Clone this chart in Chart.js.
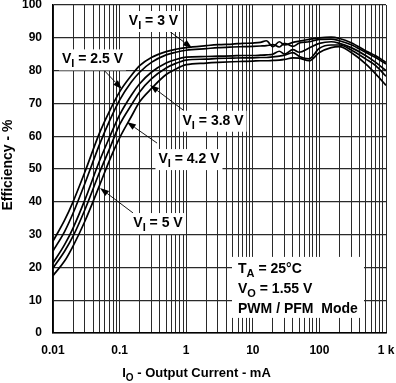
<!DOCTYPE html>
<html><head><meta charset="utf-8">
<script src="https://cdn.jsdelivr.net/npm/chart.js@4"></script>
<style>html,body{margin:0;padding:0;background:#fff}canvas{display:block}</style>
</head><body>
<canvas id="c" width="396" height="383"></canvas>
<script>
// ---- data ----
const currents = [0.01,0.015,0.02,0.03,0.05,0.07,0.1,0.15,0.2,0.3,0.5,0.7,1,2,3,5,7,10,13,16,20,25,30,40,50,70,100,150,200,300,500,700,1000];
const effVi25 = [28,34.5,40,49,61,67.5,73.5,78.5,81.5,84,85.8,86.5,87,87.6,87.9,88.1,88.3,88.4,88.6,89.1,87.3,88.8,87.8,88.6,89.0,89.5,90.0,90.2,89.8,88.5,86,84.5,82.5];
const effVi30 = [25,31,36.5,45.5,57.5,64.5,71,76.5,79.5,82.5,84.8,85.6,86.2,86.7,87.0,87.2,87.3,87.4,87.5,87.6,87.9,87.2,88.3,87.4,88.4,88.8,89.5,89.6,89.1,87.9,85.5,84.0,82.0];
const effVi38 = [21.3,27,32,40.5,52.5,59.5,66.5,72.5,76,79.5,82.3,83.4,84.1,84.3,84.4,84.5,84.6,84.6,84.7,84.8,85.0,85.9,85.0,86.4,85.6,86.9,88.3,88.8,88.3,87.0,84.5,82.5,80.0];
const effVi42 = [19.8,25,29.5,37.5,49,56,63.5,69.5,73.5,77.5,80.8,82.2,83.2,83.5,83.7,83.8,83.9,83.9,84.0,84.0,84.2,84.4,84.7,85.5,84.3,83.6,86.8,87.8,87.8,86.3,83.5,81.5,78.3];
const effVi50 = [17.5,22,26.5,34,45,52.5,59.5,66,70.5,74.5,78.8,80.5,81.8,82.3,82.5,82.7,82.8,82.9,83.0,83.0,83.1,83.2,83.4,83.9,83.8,83.0,85.5,87.0,87.3,85.5,82.0,79.0,75.5];
const seriesNames = ['VI = 2.5 V','VI = 3 V','VI = 3.8 V','VI = 4.2 V','VI = 5 V'];
const seriesValues = [effVi25, effVi30, effVi38, effVi42, effVi50];

const xTickValues = [0.01,0.1,1,10,100,1000];
const xTickLabels = ['0.01','0.1','1','10','100','1 k'];
const xGridMultipliers = [1,2,3,4,5,6,7,8,9];
const yTickValues = [0,10,20,30,40,50,60,70,80,90,100];

// labels: [main, subscript, rest]
const curveLabels = [['V','I',' = 3 V'],['V','I',' = 2.5 V'],['V','I',' = 3.8 V'],['V','I',' = 4.2 V'],['V','I',' = 5 V']];
const curveLabelAt = [[0.323,93.9],[0.0392,82.2],[2.53,63.5],[1.10,51.8],[0.377,32.3]];
const arrowFrom = [[0.481,93],[0.0508,81.4],[0.896,68],[0.365,57.9],[0.159,36.6]];
const arrowTo = [[1.22,86.9],[0.108,74.4],[0.286,75.6],[0.129,64.3],[0.0508,44.2]];

const infoLines = [['T','A',' = 25°C'],['V','O',' = 1.55 V'],['PWM / PFM  Mode','','']];
const infoBaselines = [18.2,12.3,6.2];
const infoTextLeft = 6.0;
const infoBox = [4.87,23.2,467,4.6];

const xTitle = ['I','O',' - Output Current - mA'];
const yTitle = 'Efficiency - %';

// ---- drawing ----
const FONT = '"Liberation Sans", Arial, Helvetica, sans-serif';
const gridValues = [];
for (let e = -2; e < 3; e++) for (const m of xGridMultipliers) gridValues.push(parseFloat((m*Math.pow(10,e)).toPrecision(3)));
gridValues.push(1000);

function richWidth(ctx, parts, size, subSize){
  ctx.font = `bold ${size}px ${FONT}`;
  let w = ctx.measureText(parts[0]).width + ctx.measureText(parts[2]).width;
  ctx.font = `bold ${subSize}px ${FONT}`;
  w += ctx.measureText(parts[1]).width;
  return w;
}
function drawRich(ctx, parts, x, y, size, subSize){
  ctx.textBaseline = 'alphabetic';
  ctx.textAlign = 'left';
  ctx.font = `bold ${size}px ${FONT}`;
  ctx.fillText(parts[0], x, y);
  x += ctx.measureText(parts[0]).width;
  ctx.font = `bold ${subSize}px ${FONT}`;
  ctx.fillText(parts[1], x, y + 4);
  x += ctx.measureText(parts[1]).width;
  ctx.font = `bold ${size}px ${FONT}`;
  ctx.fillText(parts[2], x, y);
}

const annotPlugin = {
  id: 'annot',
  afterDatasetsDraw(chart){
    const ctx = chart.ctx, xs = chart.scales.x, ys = chart.scales.y;
    ctx.save();
    // arrows
    ctx.strokeStyle = '#000'; ctx.fillStyle = '#000'; ctx.lineWidth = 0.9;
    arrowFrom.forEach((f,i)=>{
      const x0 = xs.getPixelForValue(f[0]), y0 = ys.getPixelForValue(f[1]);
      const x1 = xs.getPixelForValue(arrowTo[i][0]), y1 = ys.getPixelForValue(arrowTo[i][1]);
      const a = Math.atan2(y1-y0, x1-x0), L = 9, W = 3.2;
      const bx = x1 - L*Math.cos(a), by = y1 - L*Math.sin(a);
      ctx.beginPath(); ctx.moveTo(x0,y0); ctx.lineTo(bx,by); ctx.stroke();
      ctx.beginPath(); ctx.moveTo(x1,y1);
      ctx.lineTo(bx + W*Math.sin(a), by - W*Math.cos(a));
      ctx.lineTo(bx - W*Math.sin(a), by + W*Math.cos(a));
      ctx.closePath(); ctx.fill();
    });
    // curve labels
    curveLabels.forEach((p,i)=>{
      const w = richWidth(ctx, p, 14, 11);
      const cx = xs.getPixelForValue(curveLabelAt[i][0]), by = ys.getPixelForValue(curveLabelAt[i][1]);
      const x = cx - w/2;
      ctx.fillStyle = '#fff';
      ctx.fillRect(x-3, by-14, w+6, 21);
      ctx.fillStyle = '#000';
      drawRich(ctx, p, x, by, 14, 11);
    });
    // info box
    const bx0 = xs.getPixelForValue(infoBox[0]), by0 = ys.getPixelForValue(infoBox[1]);
    const bx1 = xs.getPixelForValue(infoBox[2]), by1 = ys.getPixelForValue(infoBox[3]);
    ctx.fillStyle = '#fff';
    ctx.fillRect(bx0, by0, bx1-bx0, by1-by0);
    ctx.fillStyle = '#000';
    infoLines.forEach((p,i)=>{
      drawRich(ctx, p, xs.getPixelForValue(infoTextLeft), ys.getPixelForValue(infoBaselines[i]), 14, 11);
    });
    ctx.restore();
  },
  afterDraw(chart){
    const ctx = chart.ctx;
    ctx.save();
    ctx.fillStyle = '#000';
    // x title
    const w = richWidth(ctx, xTitle, 13, 10);
    drawRich(ctx, xTitle, 196.5 - w/2, 377, 13, 10);
    // y title
    ctx.translate(12, 165);
    ctx.rotate(-Math.PI/2);
    ctx.font = `bold 14px ${FONT}`;
    ctx.textAlign = 'center'; ctx.textBaseline = 'alphabetic';
    ctx.fillText(yTitle, 0, 0);
    ctx.restore();
  }
};

const tickFont = {family: FONT, size: 12, weight: 'bold'};
new Chart(document.getElementById('c').getContext('2d'), {
  type: 'line',
  data: {
    datasets: seriesValues.map((s,i)=>({
      label: seriesNames[i],
      data: currents.map((c,j)=>({x:c, y:s[j]})),
      borderColor: '#000', borderWidth: 1.7, pointRadius: 0, fill: false,
      cubicInterpolationMode: 'monotone'
    }))
  },
  options: {
    responsive: false, animation: false, devicePixelRatio: 1,
    layout: {padding: {top: 5, right: 10, left: 0, bottom: 0}},
    plugins: {legend: {display: false}, tooltip: {enabled: false}},
    scales: {
      x: {
        type: 'logarithmic', min: 0.01, max: 1000,
        afterBuildTicks(scale){ scale.ticks = gridValues.map(v=>({value:v})); },
        afterFit(scale){ scale.height = 50; scale.paddingLeft = 0; scale.paddingRight = 0; },
        ticks: {
          autoSkip: false, maxRotation: 0, minRotation: 0, padding: 10, color: '#000', font: tickFont,
          callback(v){ const i = xTickValues.findIndex(t=>Math.abs(t-v)/t < 1e-6); return i >= 0 ? xTickLabels[i] : ''; }
        },
        grid: {color: '#2a2a2a', lineWidth: 1, drawTicks: false, tickLength: 0},
        border: {color: '#000', width: 1.5}
      },
      y: {
        min: 0, max: 100,
        afterBuildTicks(scale){ scale.ticks = yTickValues.map(v=>({value:v})); },
        afterFit(scale){ scale.width = 53; scale.paddingTop = 0; scale.paddingBottom = 0; },
        ticks: {padding: 11, color: '#000', font: tickFont},
        grid: {color: '#2a2a2a', lineWidth: 1.2, drawTicks: false, tickLength: 0},
        border: {color: '#000', width: 1.5}
      }
    }
  },
  plugins: [annotPlugin]
});
</script>
</body></html>
